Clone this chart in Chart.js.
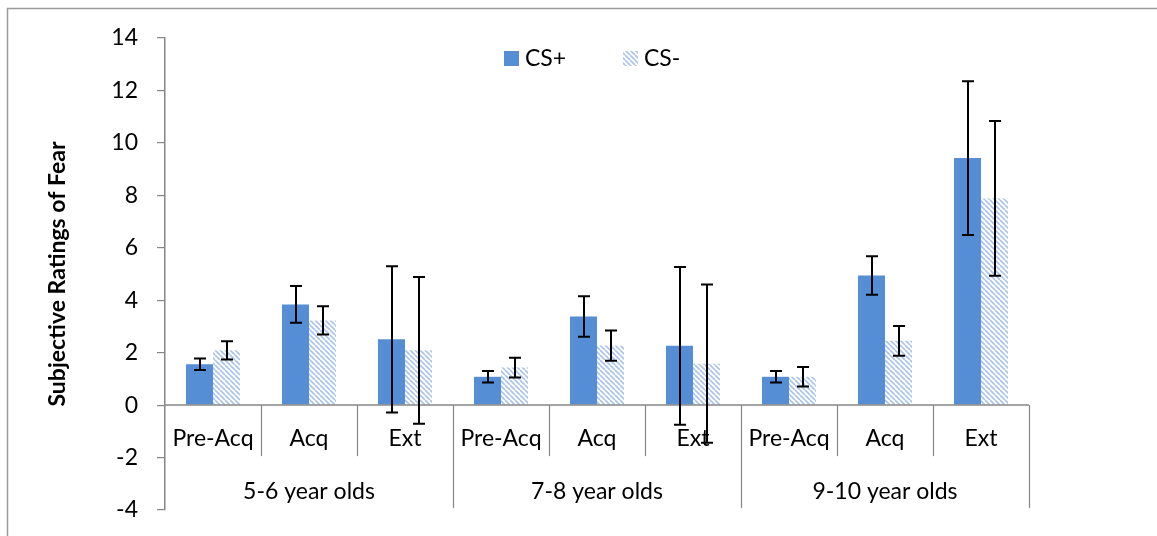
<!DOCTYPE html>
<html lang="en">
<head>
<meta charset="UTF-8">
<title>Subjective Ratings of Fear</title>
<script src="https://cdn.jsdelivr.net/npm/chart.js"></script>
<style>
  body { margin: 0; background: #fff; }
  canvas { display: block; }
</style>
</head>
<body>
<canvas id="fearChart" width="1157" height="536"></canvas>
<script>
// conditions within each age group, and the age groups
const phases = ['Pre-Acq', 'Acq', 'Ext'];
const ageGroups = ['5-6 year olds', '7-8 year olds', '9-10 year olds'];

// mean ratings and error bar half-widths, in category order
const csPlus = [1.56, 3.84, 2.51, 1.08, 3.38, 2.26, 1.08, 4.94, 9.42];
const csPlusErr = [0.22, 0.70, 2.79, 0.22, 0.77, 3.01, 0.22, 0.735, 2.93];
const csMinus = [2.09, 3.23, 2.09, 1.43, 2.27, 1.58, 1.08, 2.45, 7.88];
const csMinusErr = [0.35, 0.54, 2.80, 0.38, 0.575, 3.02, 0.37, 0.565, 2.95];

// y axis range
const yMin = -4;
const yMax = 14;
const yStep = 2;

const categories = [];
ageGroups.forEach(() => phases.forEach(p => categories.push(p)));

const FONT = 'Lato, "Liberation Sans", sans-serif';
const TEXT_SIZE = 23;
const AXIS_GREY = '#868686';

// light blue diagonal hatch for CS-
function hatch() {
    const c = document.createElement('canvas');
    c.width = 5; c.height = 5;
    const g = c.getContext('2d');
    g.strokeStyle = '#A9C3EA';
    g.lineWidth = 1.6;
    for (const k of [-5, 0, 5]) {
        g.beginPath();
        g.moveTo(k, 0);
        g.lineTo(k + 5, 5);
        g.stroke();
    }
    return g.createPattern(c, 'repeat');
}

// outer frame of the figure
const frame = {
    id: 'frame',
    beforeDraw(chart) {
        const ctx = chart.ctx;
        ctx.save();
        ctx.strokeStyle = '#9A9A9A';
        ctx.lineWidth = 1.5;
        ctx.beginPath();
        ctx.moveTo(7.5, chart.height);
        ctx.lineTo(7.5, 8.5);
        ctx.lineTo(chart.width, 8.5);
        ctx.stroke();
        ctx.restore();
    }
};

// zero line, category / group labels and their separators
const categoryAxis = {
    id: 'categoryAxis',
    afterDatasetsDraw(chart) {
        const { ctx, chartArea, scales: { x, y } } = chart;
        const y0 = y.getPixelForValue(0);
        ctx.save();
        ctx.strokeStyle = AXIS_GREY;
        ctx.lineWidth = 1.5;
        ctx.beginPath();
        ctx.moveTo(chartArea.left, y0);
        ctx.lineTo(chartArea.right, y0);
        ctx.stroke();

        ctx.lineWidth = 1.2;
        for (let i = 1; i <= categories.length; i++) {
            const sx = Math.round(x.getPixelForValue(i - 0.5)) + 0.5;
            const depth = i % phases.length === 0 ? 103 : 51;
            ctx.beginPath();
            ctx.moveTo(sx, y0);
            ctx.lineTo(sx, y0 + depth);
            ctx.stroke();
        }

        ctx.fillStyle = '#000';
        ctx.font = TEXT_SIZE + 'px ' + FONT;
        ctx.textAlign = 'center';
        ctx.textBaseline = 'alphabetic';
        categories.forEach((c, i) => {
            ctx.fillText(c, x.getPixelForValue(i), y0 + 41);
        });
        ageGroups.forEach((g, i) => {
            ctx.fillText(g, x.getPixelForValue(i * phases.length + 1), y0 + 94);
        });
        ctx.restore();
    }
};

// error bars from each dataset's err array
const errorBars = {
    id: 'errorBars',
    afterDatasetsDraw(chart) {
        const { ctx, scales: { y } } = chart;
        ctx.save();
        ctx.strokeStyle = '#000';
        ctx.lineWidth = 2;
        chart.data.datasets.forEach((ds, i) => {
            chart.getDatasetMeta(i).data.forEach((bar, j) => {
                const hi = y.getPixelForValue(ds.data[j] + ds.err[j]);
                const lo = y.getPixelForValue(ds.data[j] - ds.err[j]);
                const bx = Math.round(bar.x);
                ctx.beginPath();
                ctx.moveTo(bx, hi); ctx.lineTo(bx, lo);
                ctx.moveTo(bx - 6, hi); ctx.lineTo(bx + 6, hi);
                ctx.moveTo(bx - 6, lo); ctx.lineTo(bx + 6, lo);
                ctx.stroke();
            });
        });
        ctx.restore();
    }
};

// legend placed inside the plot, as in the original
const insideLegend = {
    id: 'insideLegend',
    afterDraw(chart) {
        const ctx = chart.ctx;
        const spots = [504, 623];
        ctx.save();
        ctx.font = TEXT_SIZE + 'px ' + FONT;
        ctx.textBaseline = 'alphabetic';
        ctx.textAlign = 'left';
        chart.data.datasets.forEach((ds, i) => {
            ctx.fillStyle = ds.backgroundColor;
            ctx.fillRect(spots[i], 51, 15, 15);
            ctx.fillStyle = '#000';
            ctx.fillText(ds.label, spots[i] + 21, 66);
        });
        ctx.restore();
    }
};

const ctx = document.getElementById('fearChart').getContext('2d');
new Chart(ctx, {
    type: 'bar',
    data: {
        labels: categories,
        datasets: [{
            label: 'CS+',
            data: csPlus,
            err: csPlusErr,
            backgroundColor: '#558ED5',
            borderWidth: 0
        }, {
            label: 'CS-',
            data: csMinus,
            err: csMinusErr,
            backgroundColor: hatch(),
            borderWidth: 0
        }]
    },
    options: {
        responsive: false,
        animation: false,
        events: [],
        layout: { padding: { left: 0, right: 128, top: 38, bottom: 26 } },
        datasets: {
            bar: { categoryPercentage: 0.5625, barPercentage: 1.0 }
        },
        plugins: {
            legend: { display: false },
            tooltip: { enabled: false }
        },
        scales: {
            x: { display: false },
            y: {
                min: yMin,
                max: yMax,
                afterFit(scale) {
                    scale.width = 165;
                    scale.paddingTop = 0;
                    scale.paddingBottom = 0;
                },
                ticks: {
                    stepSize: yStep,
                    color: '#000',
                    padding: 19,
                    font: { family: FONT, size: TEXT_SIZE }
                },
                grid: {
                    drawOnChartArea: false,
                    drawTicks: true,
                    tickLength: 8,
                    color: AXIS_GREY,
                    lineWidth: 1.2
                },
                border: { color: AXIS_GREY, width: 1.5 },
                title: {
                    display: true,
                    text: 'Subjective Ratings of Fear',
                    color: '#000',
                    padding: { top: 44, bottom: 0 },
                    font: { family: FONT, size: 23, weight: 'bold' }
                }
            }
        }
    },
    plugins: [frame, categoryAxis, errorBars, insideLegend]
});
</script>
</body>
</html>
